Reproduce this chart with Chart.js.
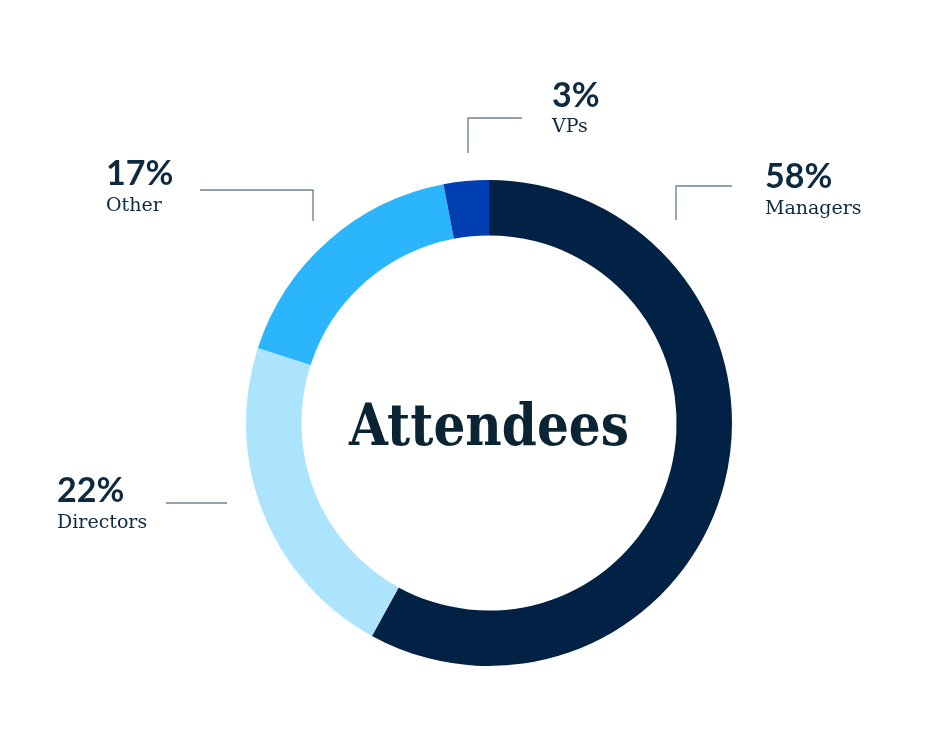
<!DOCTYPE html>
<html>
<head>
<meta charset="utf-8">
<script src="https://cdn.jsdelivr.net/npm/chart.js@4/dist/chart.umd.min.js"></script>
<style>
  html, body { margin: 0; padding: 0; background: #fff; }
  #wrap { position: relative; width: 934px; height: 748px; }
</style>
</head>
<body>
<div id="wrap"><canvas id="attendeesChart" width="934" height="748"></canvas></div>
<script>
// data
const categories = ['Managers', 'Directors', 'Other', 'VPs'];
const shares = [58, 22, 17, 3];
const sliceColors = ['#012245', '#ade4fd', '#2bb5fd', '#003fb2'];
const centerTitle = 'Attendees';

// callout placement, relative to the doughnut centre
// tx/pct/lab = text left, percent baseline, label baseline; line = polyline points
const callouts = {
  Managers:  { tx: 276, pct: -235, lab: -209, line: [[243, -237], [187, -237], [187, -203]] },
  VPs:       { tx: 63,  pct: -316, lab: -291, line: [[33, -305], [-21, -305], [-21, -270]] },
  Other:     { tx: -383, pct: -238, lab: -212, line: [[-289, -233], [-176, -233], [-176, -202]] },
  Directors: { tx: -432, pct: 79,  lab: 105, line: [[-323, 80], [-262, 80]] }
};

const textColor = '#0d2a40';

const calloutPlugin = {
  id: 'callouts',
  afterDraw(chart) {
    const ctx = chart.ctx;
    const arc = chart.getDatasetMeta(0).data[0];
    const cx = arc.x, cy = arc.y;
    ctx.save();

    // centre title, squeezed to the width of the reference lettering
    ctx.font = 'bold 58px "DejaVu Serif"';
    ctx.fillStyle = '#0b2433';
    ctx.textBaseline = 'alphabetic';
    const w = ctx.measureText(centerTitle).width;
    const sx = 280 / w;
    ctx.translate(cx - 140, cy + 22);
    ctx.scale(sx, 1);
    ctx.fillText(centerTitle, 0, 0);
    ctx.setTransform(chart.currentDevicePixelRatio, 0, 0, chart.currentDevicePixelRatio, 0, 0);

    categories.forEach((name, i) => {
      const c = callouts[name];
      ctx.strokeStyle = '#6f8394';
      ctx.lineWidth = 1.4;
      ctx.beginPath();
      c.line.forEach(([dx, dy], k) => {
        if (k === 0) ctx.moveTo(cx + dx, cy + dy); else ctx.lineTo(cx + dx, cy + dy);
      });
      ctx.stroke();

      ctx.fillStyle = textColor;
      ctx.textAlign = 'left';
      ctx.font = 'bold 34px Lato';
      ctx.fillText(shares[i] + '%', cx + c.tx, cy + c.pct);
      ctx.font = '19px "DejaVu Serif"';
      ctx.fillText(name, cx + c.tx, cy + c.lab);
    });
    ctx.restore();
  }
};

new Chart(document.getElementById('attendeesChart').getContext('2d'), {
  type: 'doughnut',
  data: {
    labels: categories,
    datasets: [{
      data: shares,
      backgroundColor: sliceColors,
      borderWidth: 0,
      hoverOffset: 0
    }]
  },
  options: {
    responsive: false,
    animation: false,
    cutout: '77.2%',
    layout: { padding: { left: 246, right: 202, top: 180, bottom: 82 } },
    events: [],
    plugins: {
      legend: { display: false },
      tooltip: { enabled: false }
    }
  },
  plugins: [calloutPlugin]
});
</script>
</body>
</html>
